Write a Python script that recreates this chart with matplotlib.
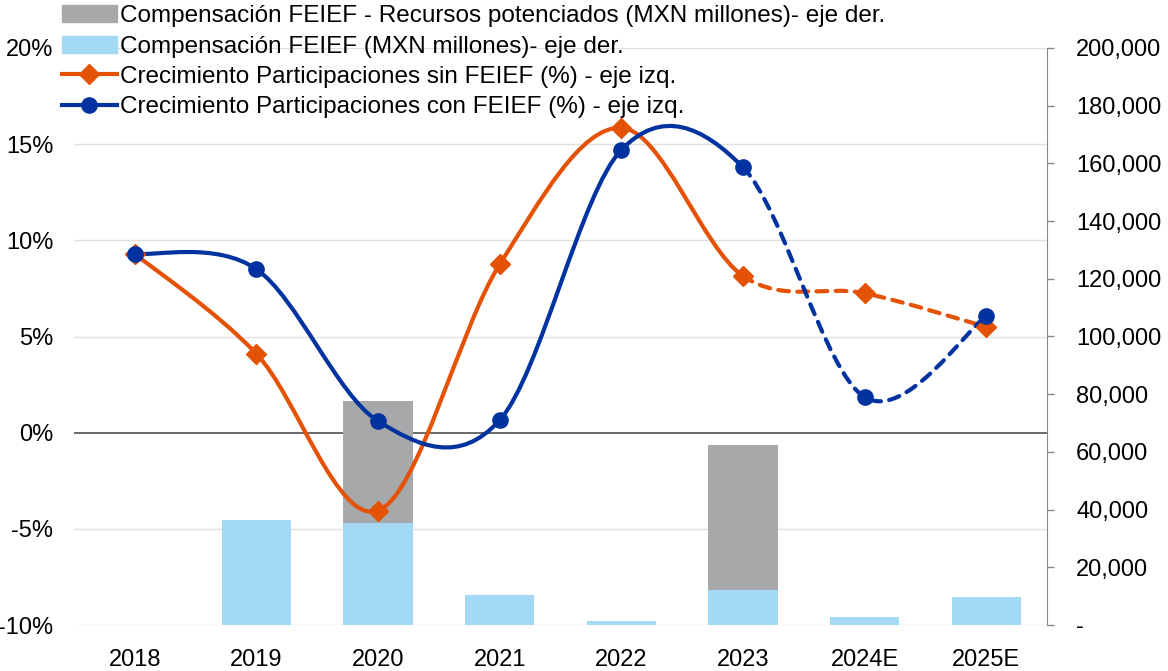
import numpy as np
import matplotlib
matplotlib.use("Agg")
import matplotlib.pyplot as plt
from matplotlib.path import Path
from matplotlib.patches import PathPatch, Patch
from matplotlib.lines import Line2D
from matplotlib.transforms import blended_transform_factory
from matplotlib.ticker import FuncFormatter

plt.rcParams['font.family'] = ['Liberation Sans', 'DejaVu Sans']

# data
years = ['2018', '2019', '2020', '2021', '2022', '2023', '2024E', '2025E']
comp_feief = [0, 36400, 35300, 10400, 1400, 12100, 2800, 9700]          # MXN millones, eje der.
comp_potenciados = [0, 0, 42300, 0, 0, 50300, 0, 0]                     # stacked on top, eje der.
crec_sin_feief = [9.3, 4.1, -4.05, 8.75, 15.85, 8.15, 7.25, 5.5]        # %, eje izq.
crec_con_feief = [9.3, 8.5, 0.6, 0.65, 14.7, 13.8, 1.85, 6.05]          # %, eje izq.

left_ticks = [-10, -5, 0, 5, 10, 15, 20]
right_ticks = list(range(0, 200001, 20000))
n_solid = 6  # points up to 2023 drawn solid, the rest dashed

ORANGE = '#E35205'
BLUE = '#0033A0'
LIGHTBLUE = '#A3D9F2'
GRAY = '#A7A8AA'


def smooth_path(xs, ys):
    """Excel-like smoothed line as a cubic bezier path through the points."""
    n = len(xs)
    verts = [(xs[0], ys[0])]
    codes = [Path.MOVETO]
    for i in range(n - 1):
        x0, y0 = xs[max(i - 1, 0)], ys[max(i - 1, 0)]
        x3, y3 = xs[min(i + 2, n - 1)], ys[min(i + 2, n - 1)]
        c1 = (xs[i] + (xs[i + 1] - x0) / 6, ys[i] + (ys[i + 1] - y0) / 6)
        c2 = (xs[i + 1] - (x3 - xs[i]) / 6, ys[i + 1] - (y3 - ys[i]) / 6)
        verts += [c1, c2, (xs[i + 1], ys[i + 1])]
        codes += [Path.CURVE4] * 3
    return verts, codes


def split_path(verts, codes, k):
    """first k points -> solid part, rest -> dashed part"""
    cut = 1 + 3 * (k - 1)
    solid = Path(verts[:cut], codes[:cut])
    dashed = Path(verts[cut - 1:], [Path.MOVETO] + codes[cut:])
    return solid, dashed


fig = plt.figure(figsize=(11.68, 6.71), dpi=100)
ax = fig.add_axes([74 / 1168, 46 / 671, (1047 - 74) / 1168, (625 - 48) / 671])
ax2 = ax.twinx()
ax.set_zorder(ax2.get_zorder() + 1)
ax.patch.set_visible(False)

x = np.arange(len(years))

# bars on right axis
ax2.bar(x, comp_feief, width=0.57, color=LIGHTBLUE, zorder=2)
ax2.bar(x, comp_potenciados, width=0.57, bottom=comp_feief, color=GRAY, zorder=2)
ax2.set_ylim(0, 200000)
ax2.set_yticks(right_ticks)
ax2.yaxis.set_major_formatter(FuncFormatter(lambda v, p: '-' if v == 0 else f'{v:,.0f}'))
for lbl in ax2.get_yticklabels():
    lbl.set_horizontalalignment('left')
ax2.tick_params(axis='y', length=5, width=1, color='#898989', pad=16, labelsize=17)

# grid and zero line below the bars, but on the left scale
tr = blended_transform_factory(ax2.transAxes, ax.transData)
ax2.hlines([t for t in left_ticks if t != 0], 0, 1, transform=tr, color='#E0E0E0', lw=1, zorder=0)
ax2.hlines([0], 0, 1, transform=tr, color='#505050', lw=1.2, zorder=1)

# lines on left axis
for ys, color, marker, ms in [(crec_sin_feief, ORANGE, 'D', 10), (crec_con_feief, BLUE, 'o', 11)]:
    verts, codes = smooth_path(list(x), ys)
    solid, dashed = split_path(verts, codes, n_solid)
    ax.add_patch(PathPatch(solid, fill=False, edgecolor=color, lw=3, capstyle='round', zorder=3))
    ax.add_patch(PathPatch(dashed, fill=False, edgecolor=color, lw=3, linestyle=(0, (2.6, 2.0)),
                           capstyle='round', zorder=3))
    ax.plot(x, ys, linestyle='none', marker=marker, ms=ms, color=color, zorder=4)

ax.set_xlim(-0.5, len(years) - 0.5)
ax.set_ylim(-10, 20)
ax.set_yticks(left_ticks)
ax.yaxis.set_major_formatter(FuncFormatter(lambda v, p: f'{v:.0f}%'))
ax.set_xticks(x)
ax.set_xticklabels(years)
ax.tick_params(axis='y', length=0, pad=15, labelsize=17)
ax.tick_params(axis='x', length=0, pad=17, labelsize=17)

for a in (ax, ax2):
    for s in ('top', 'left', 'bottom'):
        a.spines[s].set_visible(False)
ax.spines['right'].set_visible(False)
ax2.spines['right'].set_color('#898989')

handles = [
    Patch(color=GRAY),
    Patch(color=LIGHTBLUE),
    Line2D([], [], color=ORANGE, lw=3, marker='D', ms=10),
    Line2D([], [], color=BLUE, lw=3, marker='o', ms=11),
]
labels = [
    'Compensación FEIEF - Recursos potenciados (MXN millones)- eje der.',
    'Compensación FEIEF (MXN millones)- eje der.',
    'Crecimiento Participaciones sin FEIEF (%) - eje izq.',
    'Crecimiento Participaciones con FEIEF (%) - eje izq.',
]
fig.legend(handles, labels, loc='upper left', bbox_to_anchor=(62 / 1168, 0.992), frameon=False,
           fontsize=17.5, handlelength=2.25, handletextpad=0.15, labelspacing=0.34,
           borderpad=0, borderaxespad=0)

fig.savefig('out.png', dpi=100)
